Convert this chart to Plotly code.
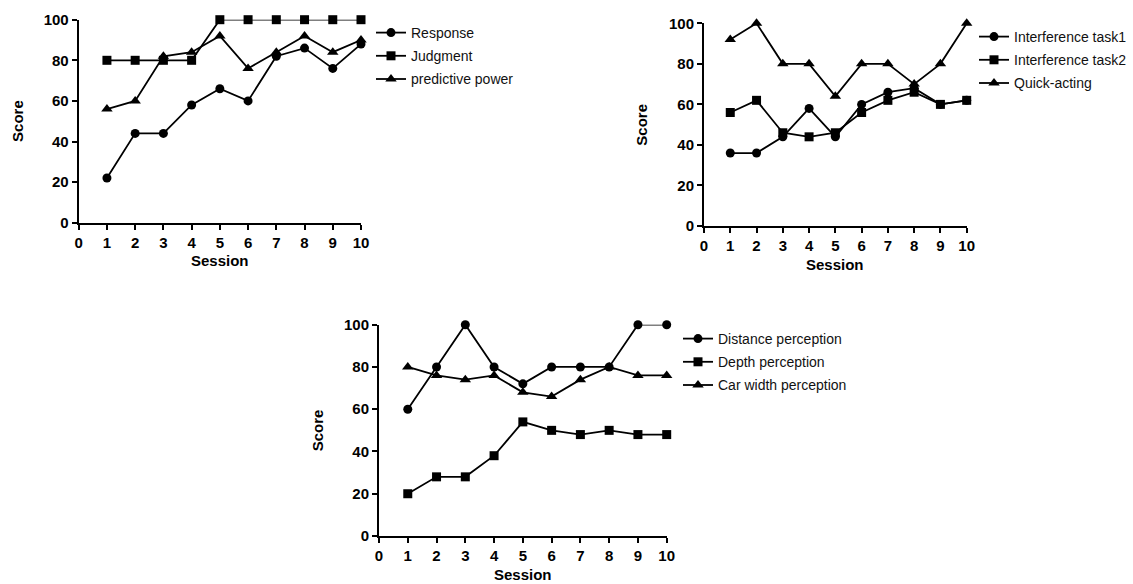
import plotly.graph_objects as go

sessions = [1, 2, 3, 4, 5, 6, 7, 8, 9, 10]

# Chart 1
response = [22, 44, 44, 58, 66, 60, 82, 86, 76, 88]
judgment = [80, 80, 80, 80, 100, 100, 100, 100, 100, 100]
predictive = [56, 60, 82, 84, 92, 76, 84, 92, 84, 90]

# Chart 2
interf1 = [36, 36, 44, 58, 44, 60, 66, 68, 60, 62]
interf2 = [56, 62, 46, 44, 46, 56, 62, 66, 60, 62]
quick = [92, 100, 80, 80, 64, 80, 80, 70, 80, 100]

# Chart 3
distance = [60, 80, 100, 80, 72, 80, 80, 80, 100, 100]
depth = [20, 28, 28, 38, 54, 50, 48, 50, 48, 48]
carwidth = [80, 76, 74, 76, 68, 66, 74, 80, 76, 76]

W, H = 1133, 584

def px_x(p):
    return p / W

def px_y(p):
    return 1 - p / H

panels = [
    ("x", "y", "legend", [response, judgment, predictive],
     ["Response", "Judgment", "predictive power"], 78.7, 361, 19.7, 222.7, 411, 17),
    ("x2", "y2", "legend2", [interf1, interf2, quick],
     ["Interference task1", "Interference task2", "Quick-acting"], 704, 966.7, 23.3, 226, 1014, 21),
    ("x3", "y3", "legend3", [distance, depth, carwidth],
     ["Distance perception", "Depth perception", "Car width perception"], 379, 666.7, 324.7, 536, 718, 323),
]

symbols = ["circle", "square", "triangle-up"]
msizes = [9, 9, 10]

fig = go.Figure()
layout = dict(
    width=W, height=H, margin=dict(l=0, r=0, t=0, b=0, autoexpand=False),
    paper_bgcolor="white", plot_bgcolor="white", showlegend=True,
)
annotations = []
tickfont = dict(family="Liberation Sans Narrow, Arial Narrow, Liberation Sans, Arial", size=15,
                color="black", weight="bold")
titlefont = dict(family="Liberation Sans, Arial", size=15, color="black", weight="bold")

k = 0
for i, (xa, ya, lg, series, names, x0, x1, yt, yb, ltx, lty) in enumerate(panels):
    for s, n, sym, ms in zip(series, names, symbols, msizes):
        k += 1
        fig.add_trace(go.Scatter(
            x=sessions, y=s, name=n, mode="lines+markers", xaxis=xa, yaxis=ya, legend=lg,
            legendgroup="g%d" % k,
            line=dict(color="black", width=1.8),
            marker=dict(symbol=sym, size=ms, color="black"),
            cliponaxis=False,
        ))
    xkey = "xaxis" if xa == "x" else "xaxis" + xa[1:]
    ykey = "yaxis" if ya == "y" else "yaxis" + ya[1:]
    layout[xkey] = dict(
        domain=[px_x(x0), px_x(x1)], range=[0, 10], anchor=ya, dtick=1, tick0=0,
        showgrid=False, zeroline=False, showline=True, linecolor="black", linewidth=2,
        ticks="outside", ticklen=5, tickwidth=2, tickcolor="black", tickfont=tickfont,
        fixedrange=True, automargin=False,
    )
    layout[ykey] = dict(
        domain=[px_y(yb), px_y(yt)], range=[0, 100], anchor=xa, dtick=20, tick0=0,
        showgrid=False, zeroline=False, showline=True, linecolor="black", linewidth=2,
        ticks="outside", ticklen=5, tickwidth=2, tickcolor="black", tickfont=tickfont,
        fixedrange=True, automargin=False,
    )
    layout[lg] = dict(
        x=px_x(ltx - 40), y=px_y(lty), xanchor="left", yanchor="top",
        font=dict(family="Liberation Sans, Arial", size=14, color="#111"),
        bgcolor="rgba(0,0,0,0)", tracegroupgap=2, itemwidth=30,
    )
    annotations.append(dict(
        text="Session", xref="paper", yref="paper", x=px_x((x0 + x1) / 2), y=px_y(yb + 38),
        xanchor="center", yanchor="middle", showarrow=False, font=titlefont,
    ))
    annotations.append(dict(
        text="Score", xref="paper", yref="paper", x=px_x(x0 - 62), y=px_y((yt + yb) / 2),
        xanchor="center", yanchor="middle", showarrow=False, textangle=-90, font=titlefont,
    ))

layout["annotations"] = annotations
fig.update_layout(**layout)
fig.write_html("out.html")
